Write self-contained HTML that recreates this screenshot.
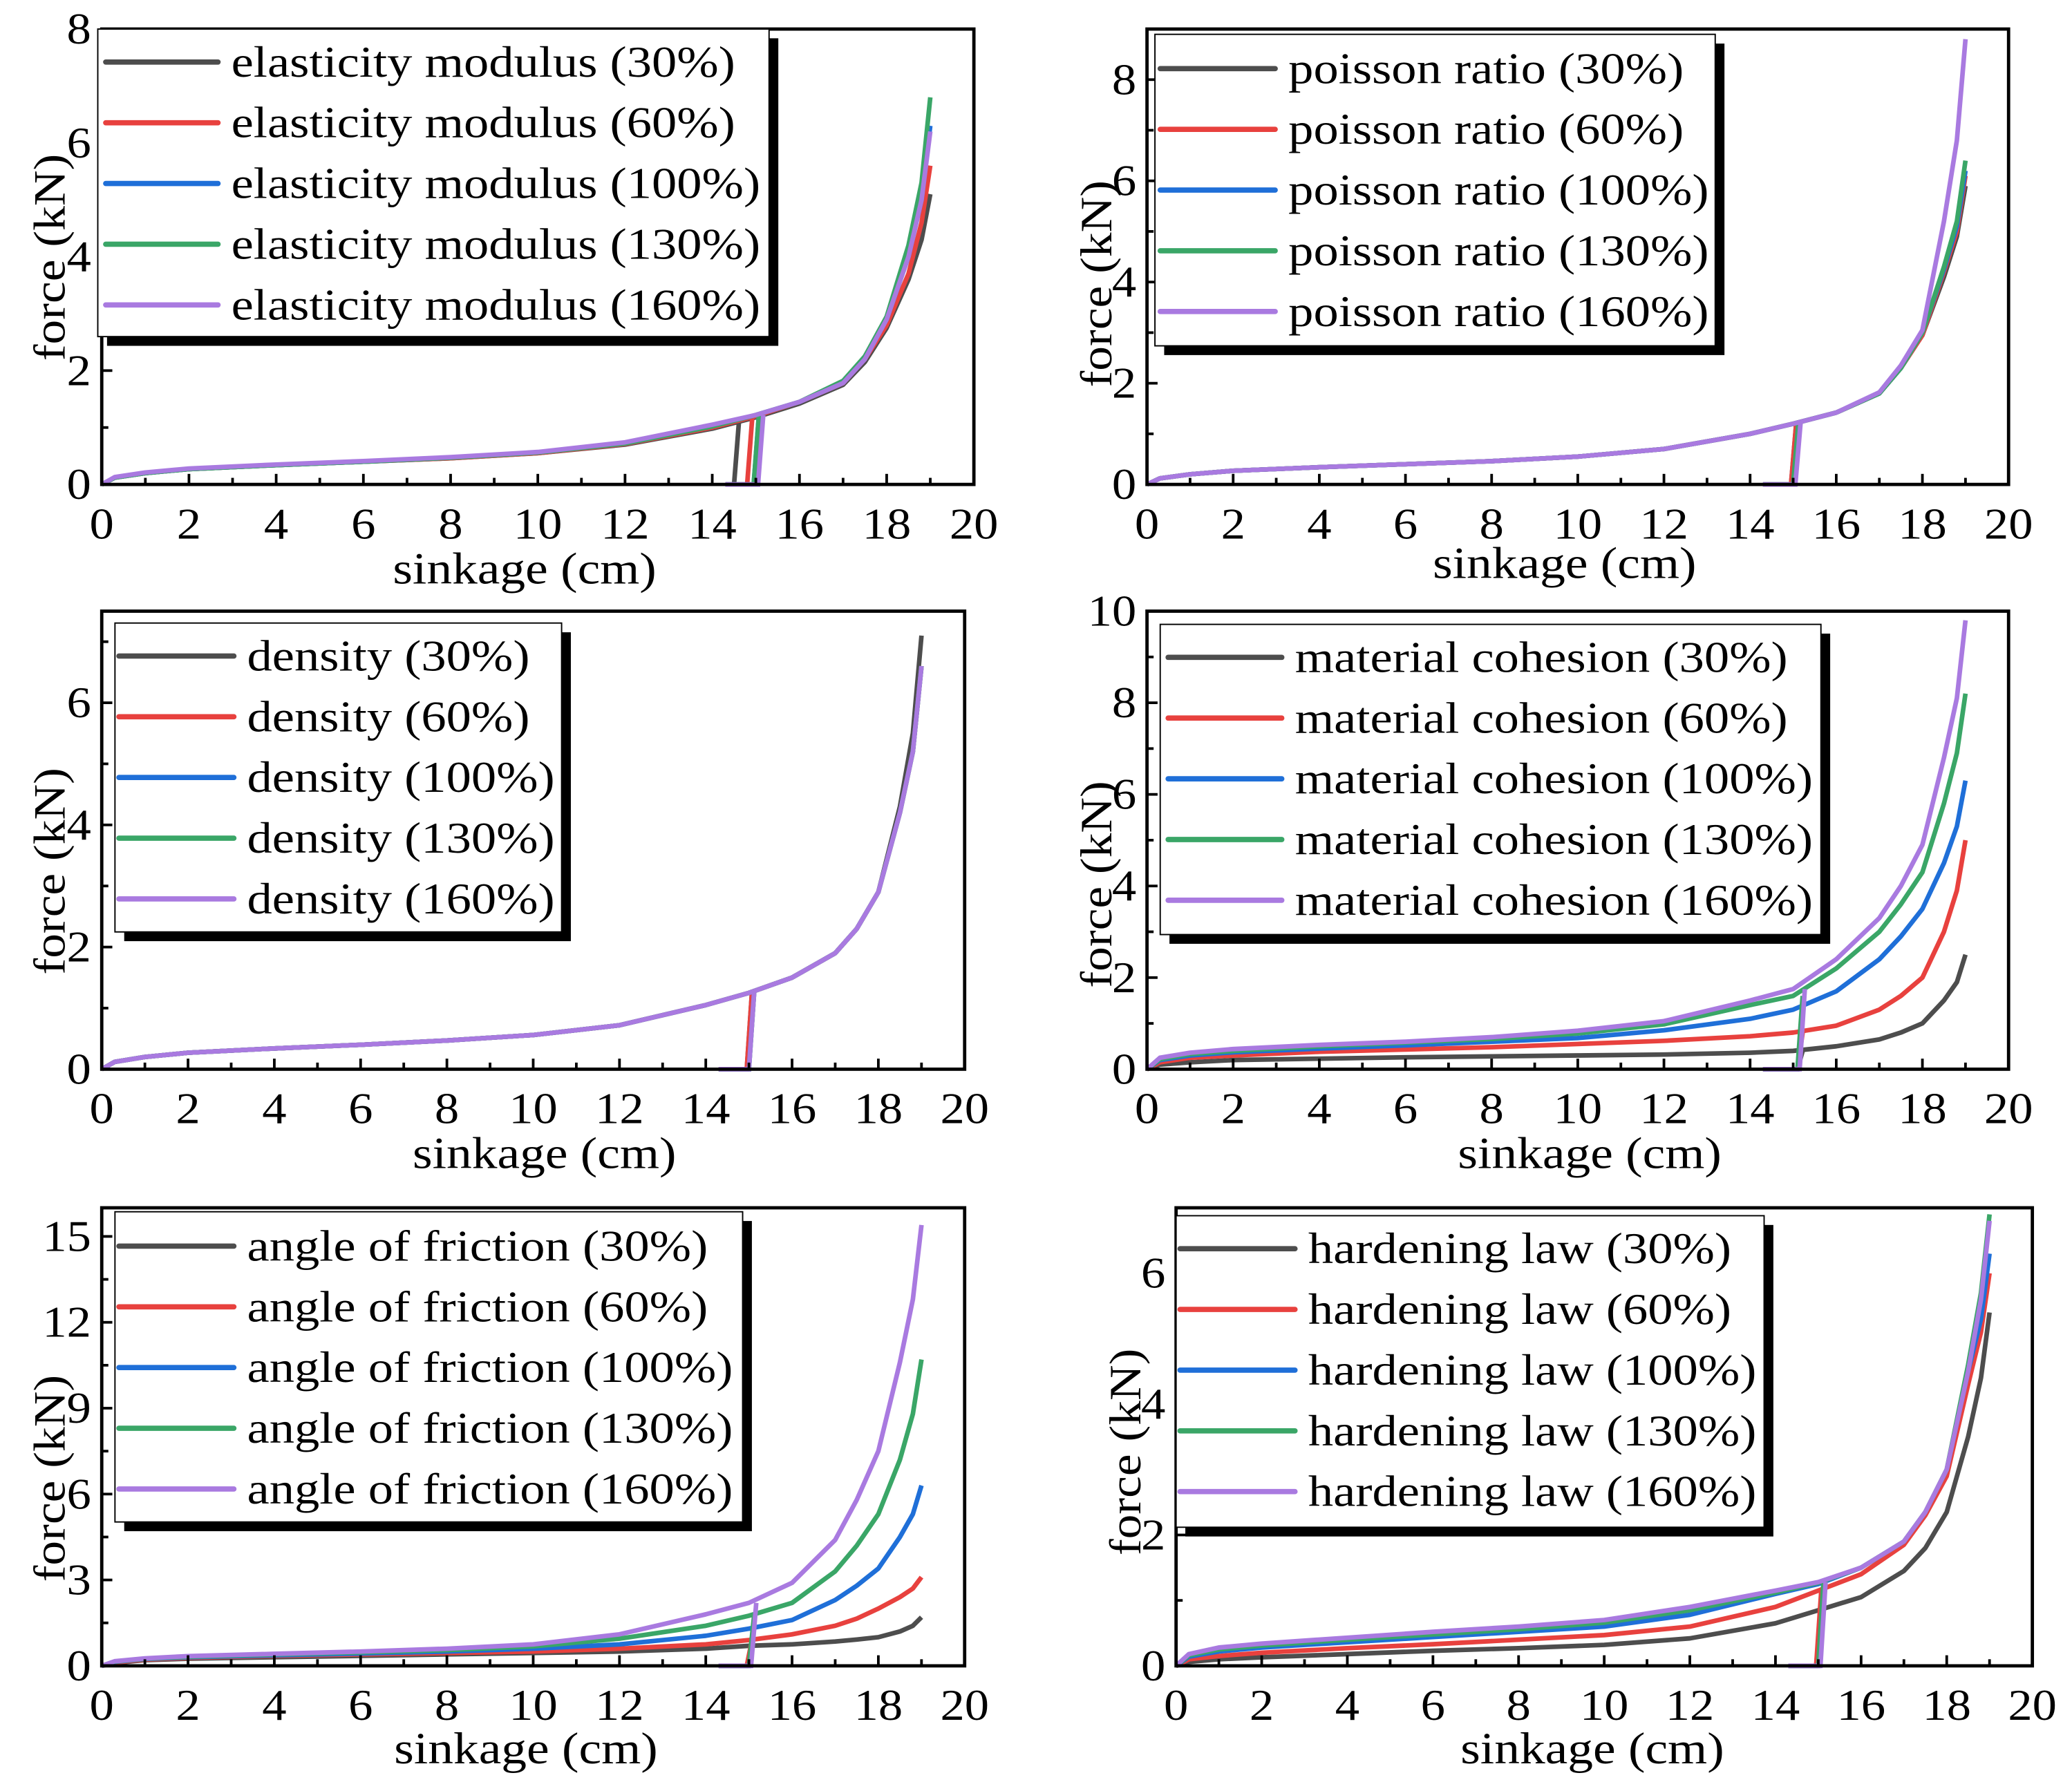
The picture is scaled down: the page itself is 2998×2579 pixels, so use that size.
<!DOCTYPE html>
<html><head><meta charset="utf-8"><style>
html,body{margin:0;padding:0;background:#fff;}
svg{display:block;font-family:"Liberation Serif",serif;}
</style></head><body>
<svg id="fig" width="2998" height="2579" viewBox="0 0 1568 1350" preserveAspectRatio="none" xmlns="http://www.w3.org/2000/svg"></svg>
<script>
const sinkage = [0,0.3,1,2,4,6,8,10,12,14,15,16,17,17.5,18,18.5,18.8,19];
const pctLabels = ["30%","60%","100%","130%","160%"];
const colors = ["#4d4d4d","#e8413e","#1f6fd8","#3aa667","#a97ae0"];

const elasticity = [
 [0,0.12,0.2,0.27,0.34,0.4,0.46,0.55,0.7,0.98,1.18,1.42,1.75,2.15,2.75,3.6,4.3,5.1],
 [0,0.12,0.2,0.27,0.34,0.4,0.46,0.55,0.71,1.0,1.2,1.45,1.78,2.2,2.8,3.7,4.6,5.6],
 [0,0.12,0.2,0.27,0.34,0.4,0.47,0.56,0.72,1.02,1.22,1.45,1.8,2.25,2.9,4.0,5.0,6.3],
 [0,0.12,0.2,0.27,0.34,0.4,0.47,0.56,0.72,1.02,1.22,1.45,1.82,2.25,2.95,4.2,5.3,6.8],
 [0,0.13,0.21,0.28,0.35,0.41,0.48,0.57,0.74,1.05,1.22,1.45,1.78,2.2,2.9,4.0,5.0,6.2]];
const elasticityJump = [14.5,14.8,14.95,14.95,15.05];

const poisson = [
 [0,0.12,0.2,0.27,0.34,0.4,0.46,0.55,0.7,1.0,1.2,1.42,1.8,2.3,2.95,4.1,4.9,5.9],
 [0,0.12,0.2,0.27,0.34,0.4,0.46,0.55,0.7,1.0,1.2,1.42,1.8,2.3,2.95,4.2,5.0,6.1],
 [0,0.12,0.2,0.27,0.34,0.4,0.46,0.55,0.7,1.0,1.2,1.42,1.8,2.3,3.0,4.25,5.1,6.2],
 [0,0.12,0.2,0.27,0.34,0.4,0.46,0.55,0.7,1.0,1.2,1.42,1.8,2.3,3.0,4.3,5.2,6.4],
 [0,0.12,0.2,0.27,0.34,0.4,0.46,0.55,0.7,1.0,1.2,1.42,1.82,2.35,3.05,5.2,6.8,8.8]];
const poissonJump = [14.95,14.95,15.0,15.0,15.05];

const density = [
 [0,0.12,0.2,0.27,0.34,0.4,0.47,0.56,0.72,1.05,1.25,1.5,1.9,2.3,2.9,4.3,5.5,7.1],
 [0,0.12,0.2,0.27,0.34,0.4,0.47,0.56,0.72,1.05,1.25,1.5,1.9,2.3,2.9,4.2,5.2,6.6],
 [0,0.12,0.2,0.27,0.34,0.4,0.47,0.56,0.72,1.05,1.25,1.5,1.9,2.3,2.9,4.2,5.2,6.6],
 [0,0.12,0.2,0.27,0.34,0.4,0.47,0.56,0.72,1.05,1.25,1.5,1.9,2.3,2.9,4.2,5.2,6.6],
 [0,0.12,0.2,0.27,0.34,0.4,0.47,0.56,0.72,1.05,1.25,1.5,1.9,2.3,2.9,4.2,5.2,6.6]];
const densityJump = [14.95,14.95,15.0,15.0,15.0];

const cohesion = [
 [0,0.1,0.15,0.2,0.23,0.26,0.28,0.3,0.32,0.36,0.4,0.5,0.65,0.8,1.0,1.5,1.9,2.5],
 [0,0.15,0.25,0.3,0.38,0.43,0.48,0.55,0.62,0.72,0.8,0.95,1.3,1.6,2.0,3.0,3.9,5.0],
 [0,0.2,0.3,0.37,0.45,0.52,0.6,0.68,0.85,1.1,1.3,1.7,2.4,2.9,3.5,4.5,5.3,6.3],
 [0,0.22,0.33,0.4,0.5,0.58,0.66,0.78,0.98,1.4,1.6,2.2,3.0,3.6,4.3,5.8,6.9,8.2],
 [0,0.25,0.36,0.44,0.53,0.6,0.7,0.84,1.05,1.5,1.75,2.4,3.3,4.0,4.9,6.8,8.1,9.8]];
const cohesionJump = [15.1,15.1,15.1,15.1,15.15];

const friction = [
 [0,0.1,0.2,0.25,0.3,0.35,0.4,0.45,0.5,0.6,0.7,0.75,0.85,0.92,1.0,1.2,1.4,1.7],
 [0,0.12,0.22,0.28,0.35,0.4,0.45,0.5,0.6,0.75,0.9,1.1,1.4,1.65,2.0,2.4,2.7,3.1],
 [0,0.14,0.24,0.3,0.37,0.43,0.5,0.6,0.75,1.05,1.3,1.6,2.3,2.8,3.4,4.5,5.3,6.3],
 [0,0.15,0.25,0.32,0.4,0.47,0.55,0.68,0.95,1.4,1.75,2.2,3.3,4.2,5.3,7.2,8.8,10.7],
 [0,0.16,0.26,0.34,0.42,0.5,0.6,0.75,1.1,1.8,2.2,2.9,4.4,5.8,7.5,10.6,12.8,15.4]];
const frictionJump = [14.95,14.95,15.0,15.0,15.05];

const hardening = [
 [0,0.06,0.1,0.13,0.18,0.23,0.27,0.32,0.42,0.65,0.85,1.05,1.45,1.8,2.35,3.5,4.4,5.4],
 [0,0.1,0.15,0.2,0.27,0.33,0.4,0.47,0.6,0.9,1.15,1.4,1.85,2.3,2.9,4.3,5.1,6.0],
 [0,0.14,0.22,0.28,0.36,0.44,0.52,0.6,0.78,1.1,1.25,1.5,1.9,2.35,3.0,4.5,5.3,6.3],
 [0,0.16,0.25,0.31,0.4,0.48,0.56,0.66,0.85,1.12,1.27,1.5,1.9,2.35,3.0,4.6,5.7,6.9],
 [0,0.18,0.28,0.34,0.43,0.52,0.6,0.7,0.9,1.15,1.28,1.5,1.9,2.35,3.0,4.5,5.6,6.8]];
const hardeningJump = [14.95,14.95,15.0,15.0,15.05];

const xTickLabels = ["0","2","4","6","8","10","12","14","16","18","20"];
const yTicks1 = [0,2,4,6,8];
const yTicks2 = [0,2,4,6,8];
const yTicks3 = [0,2,4,6];
const yTicks4 = [0,2,4,6,8,10];
const yTicks5 = [0,3,6,9,12,15];
const yTicks6 = [0,2,4,6];

const panels = [
 {id:"elasticity",name:"elasticity modulus",data:elasticity,jump:elasticityJump,ymax:8,yt:yTicks1,minor:1,
  box:[77,22,737,367],leg:[74,22,582,255],legY:47,legLine:[80,165],legText:175,yT:[38,195],xT:[397,442]},
 {id:"poisson",name:"poisson ratio",data:poisson,jump:poissonJump,ymax:9,yt:yTicks2,minor:1,
  box:[868,22,1520,367],leg:[874,26,1298,262],legY:52,legLine:[878,965],legText:975,yT:[830,215],xT:[1184,438]},
 {id:"density",name:"density",data:density,jump:densityJump,ymax:7.5,yt:yTicks3,minor:1,
  box:[77,463,730,810],leg:[87,472,425,706],legY:497,legLine:[90,177],legText:187,yT:[38,660],xT:[412,885]},
 {id:"cohesion",name:"material cohesion",data:cohesion,jump:cohesionJump,ymax:10,yt:yTicks4,minor:1,
  box:[868,463,1520,810],leg:[878,473,1378,708],legY:498,legLine:[884,970],legText:980,yT:[830,670],xT:[1203,885]},
 {id:"friction",name:"angle of friction",data:friction,jump:frictionJump,ymax:16,yt:yTicks5,minor:1.5,
  box:[77,915,730,1262],leg:[87,918,562,1153],legY:944,legLine:[90,177],legText:187,yT:[38,1120],xT:[398,1336]},
 {id:"hardening",name:"hardening law",data:hardening,jump:hardeningJump,ymax:7,yt:yTicks6,minor:1,
  box:[890,915,1538,1262],leg:[890,921,1335,1157],legY:946,legLine:[893,980],legText:990,yT:[852,1100],xT:[1205,1336]}
];

const NS="http://www.w3.org/2000/svg";
const fig=document.getElementById('fig');
function mk(tag,attrs,parent){const e=document.createElementNS(NS,tag);for(const k in attrs)e.setAttribute(k,attrs[k]);parent.appendChild(e);return e;}
function stretch(t,f){const w=t.getComputedTextLength();if(w>0){t.setAttribute('textLength',(w*f).toFixed(1));t.setAttribute('lengthAdjust','spacingAndGlyphs');}}

panels.forEach(p=>{
  const g=mk('g',{},fig);
  
  
  const [x0,y0,x1,y1]=p.box;
  const sx=v=>x0+(v/20)*(x1-x0);
  const sy=v=>y1-(v/p.ymax)*(y1-y0);
  p.data.forEach((vals,si)=>{
    let d='';
    vals.forEach((v,i)=>{d+=(i?'L':'M')+sx(sinkage[i]).toFixed(2)+' '+sy(v).toFixed(2);});
    const path=mk('path',{d:d,fill:'none',stroke:colors[si],'stroke-width':3.5,'stroke-linejoin':'round'},g);
    
    
    const j=p.jump[si];
    const jv=vals[10];
    const jd='M'+sx(14.3)+' '+sy(0)+'L'+sx(j)+' '+sy(0)+'L'+sx(j+0.12)+' '+sy(jv);
    const jp=mk('path',{d:jd,fill:'none',stroke:colors[si],'stroke-width':3.5},g);
    
    
  });
  const fr=mk('rect',{x:x0,y:y0,width:x1-x0,height:y1-y0,fill:'none',stroke:'#000','stroke-width':2.5},g);
  
  
  for(let v=0;v<=20;v++){
    const len=v%2===0?8:5;
    const t=mk('line',{x1:sx(v),x2:sx(v),y1:y1,y2:y1-len,stroke:'#000','stroke-width':2},g);
    
    
  }
  xTickLabels.forEach((lab,i)=>{
    const t=mk('text',{x:sx(i*2),y:y1+41,'font-size':33,'text-anchor':'middle'},g);
    t.textContent=lab;
    
    
    stretch(t,1.12);
  });
  for(let v=0;v<=p.ymax+1e-6;v+=p.minor){
    const major=p.yt.some(m=>Math.abs(m-v)<1e-6);
    const t=mk('line',{x1:x0,x2:x0+(major?8:5),y1:sy(v),y2:sy(v),stroke:'#000','stroke-width':2},g);
    
    
  }
  p.yt.forEach(v=>{
    const t=mk('text',{x:x0-8,y:sy(v)+11,'font-size':33,'text-anchor':'end'},g);
    t.textContent=String(v);
    
    
    stretch(t,1.12);
  });
  const xt=mk('text',{x:p.xT[0],y:p.xT[1],'font-size':34,'text-anchor':'middle'},g);
  xt.textContent='sinkage (cm)';
  
  
  stretch(xt,1.13);
  const yt=mk('text',{x:0,y:0,'font-size':34,'text-anchor':'middle',transform:'translate('+(p.yT[0]+11)+','+p.yT[1]+') rotate(-90)'},g);
  yt.textContent='force (kN)';
  
  
  stretch(yt,1.1);
  const [lx0,ly0,lx1,ly1]=p.leg;
  const lg=mk('g',{},g);
  
  
  mk('rect',{x:lx0+7,y:ly0+7,width:lx1-lx0,height:ly1-ly0,fill:'#000'},lg);
  mk('rect',{x:lx0,y:ly0,width:lx1-lx0,height:ly1-ly0,fill:'#fff',stroke:'#000','stroke-width':1},lg);
  pctLabels.forEach((pl,si)=>{
    const yy=p.legY+si*46;
    const e=mk('g',{},lg);
    
    
    mk('line',{x1:p.legLine[0],x2:p.legLine[1],y1:yy,y2:yy,stroke:colors[si],'stroke-width':4,'stroke-linecap':'round'},e);
    const t=mk('text',{x:p.legText,y:yy+11,'font-size':33},e);
    t.textContent=p.name+' ('+pl+')';
    stretch(t,1.15);
  });
});
</script>
</body></html>
